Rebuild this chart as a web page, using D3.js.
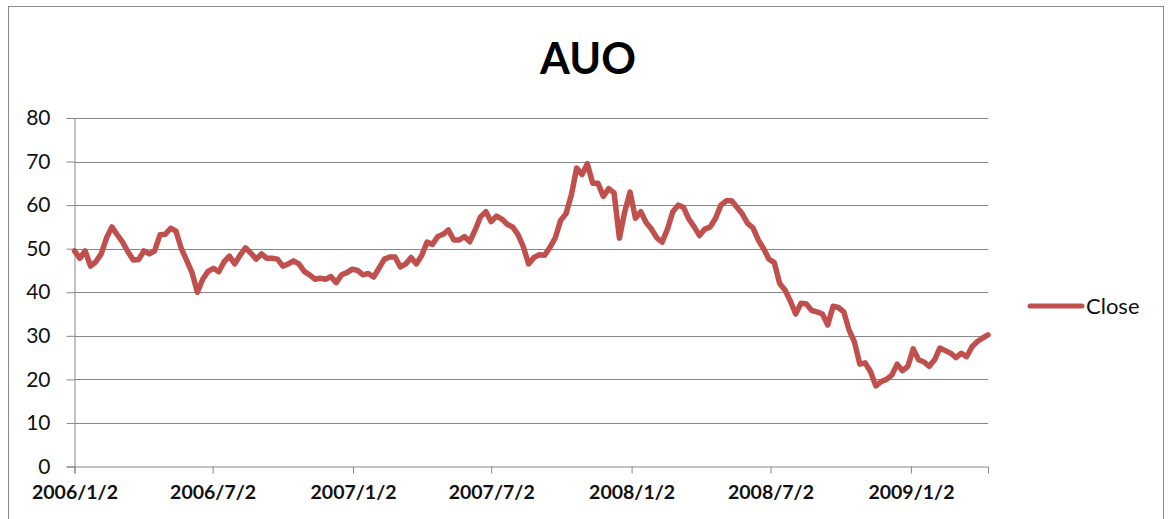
<!DOCTYPE html>
<html><head><meta charset="utf-8">
<script src="https://cdn.jsdelivr.net/npm/d3@7"></script>
<style>body{margin:0;background:#fff}svg{display:block}</style>
</head><body>
<svg id="c" width="1170" height="519"></svg>
<script>
const chartTitle = "AUO";
const seriesName = "Close";
const startDate = "2006-01-02";
const stepDays = 7;
const closeValues = [
49.5,47.8,49.5,46.0,47.0,48.8,52.5,55.0,53.2,51.5,
49.3,47.4,47.5,49.5,48.8,49.5,53.2,53.3,54.7,54.0,
50.0,47.3,44.5,40.0,43.0,44.8,45.5,44.7,47.0,48.3,
46.5,48.5,50.2,49.0,47.6,48.8,47.8,47.8,47.6,46.0,
46.5,47.2,46.5,44.8,44.0,43.0,43.2,43.0,43.6,42.2,
44.0,44.5,45.3,45.0,44.0,44.3,43.5,45.5,47.6,48.1,
48.1,45.8,46.5,48.0,46.5,48.5,51.5,51.0,52.8,53.3,
54.3,52.0,52.0,52.8,51.6,54.3,57.3,58.5,56.2,57.5,
56.8,55.6,55.0,53.3,50.5,46.5,48.0,48.6,48.5,50.3,
52.5,56.5,58.0,62.3,68.5,67.0,69.5,65.0,65.0,62.0,
63.8,62.8,52.4,58.5,63.0,57.0,58.5,56.0,54.5,52.5,
51.5,54.5,58.5,60.0,59.5,56.8,55.0,53.0,54.5,55.0,
57.0,60.0,61.0,61.0,59.5,58.0,55.8,54.8,52.0,50.0,
47.6,46.8,42.0,40.5,38.0,35.0,37.5,37.3,35.8,35.5,
35.0,32.5,36.8,36.5,35.5,31.3,28.6,23.5,23.8,21.8,
18.5,19.5,20.0,21.0,23.5,22.0,23.0,27.0,24.5,24.0,
23.0,24.5,27.2,26.6,26.0,25.0,26.0,25.2,27.5,28.7,
29.5,30.2
];
const yTickValues = [0,10,20,30,40,50,60,70,80];
const xTickDates = ["2006-01-02","2006-07-02","2007-01-02","2007-07-02","2008-01-02","2008-07-02","2009-01-02"];
const xTickLabels = ["2006/1/2","2006/7/2","2007/1/2","2007/7/2","2008/1/2","2008/7/2","2009/1/2"];

const parse = d3.utcParse("%Y-%m-%d");
const t0 = parse(startDate);
const data = closeValues.map((v,i)=>({date:d3.utcDay.offset(t0, i*stepDays), value:v}));

const svg = d3.select("#c");
const L = 74.5, R = 988, T = 118, B = 466.5;
const x = d3.scaleUtc().domain([t0, data[data.length-1].date]).range([L, R]);
const y = d3.scaleLinear().domain([0,80]).range([B, T]);
const gridColor = "#878787";
const font = "Lato, 'Open Sans', sans-serif";

// outer border
svg.append("rect").attr("x",8.5).attr("y",6.5).attr("width",1155).attr("height",530)
  .attr("fill","none").attr("stroke","#8c8c8c").attr("stroke-width",1);

// gridlines
svg.append("g").selectAll("line").data(yTickValues.filter(v=>v>0)).join("line")
  .attr("x1",L).attr("x2",R).attr("y1",d=>Math.round(y(d))+0.5).attr("y2",d=>Math.round(y(d))+0.5)
  .attr("stroke",gridColor).attr("stroke-width",1);

// y axis
const yAxis = svg.append("g").attr("transform",`translate(${L},0)`)
  .call(d3.axisLeft(y).tickValues(yTickValues).tickSize(8).tickPadding(16).tickFormat(d3.format("d")));
yAxis.select(".domain").attr("stroke",gridColor);
yAxis.selectAll(".tick line").attr("stroke",gridColor);
yAxis.selectAll(".tick text").attr("font-family",font).attr("font-size",21).attr("fill","#111");

// x axis
const xAxis = svg.append("g").attr("transform",`translate(0,${B})`)
  .call(d3.axisBottom(x).tickValues(xTickDates.map(parse)).tickSize(7).tickPadding(12)
    .tickFormat((d,i)=>xTickLabels[i]));
xAxis.select(".domain").attr("stroke",gridColor);
xAxis.selectAll(".tick line").attr("stroke",gridColor);
xAxis.selectAll(".tick text").attr("font-family",font).attr("font-size",19.5).attr("font-weight","bold").attr("fill","#111");

// line
const line = d3.line().x(d=>x(d.date)).y(d=>y(d.value));
svg.append("path").datum(data).attr("d",line).attr("fill","none")
  .attr("stroke","#C0504D").attr("stroke-width",5.5).attr("stroke-linejoin","round").attr("stroke-linecap","round");

// title
svg.append("text").attr("x",588).attr("y",74).attr("text-anchor","middle")
  .attr("font-family",font).attr("font-weight","bold").attr("font-size",43).attr("fill","#000").text(chartTitle);

// legend
svg.append("line").attr("x1",1030).attr("x2",1082).attr("y1",306).attr("y2",306)
  .attr("stroke","#C0504D").attr("stroke-width",5).attr("stroke-linecap","round");
svg.append("text").attr("x",1086).attr("y",313.5).attr("font-family",font).attr("font-size",22)
  .attr("fill","#111").text(seriesName);
</script>
</body></html>
